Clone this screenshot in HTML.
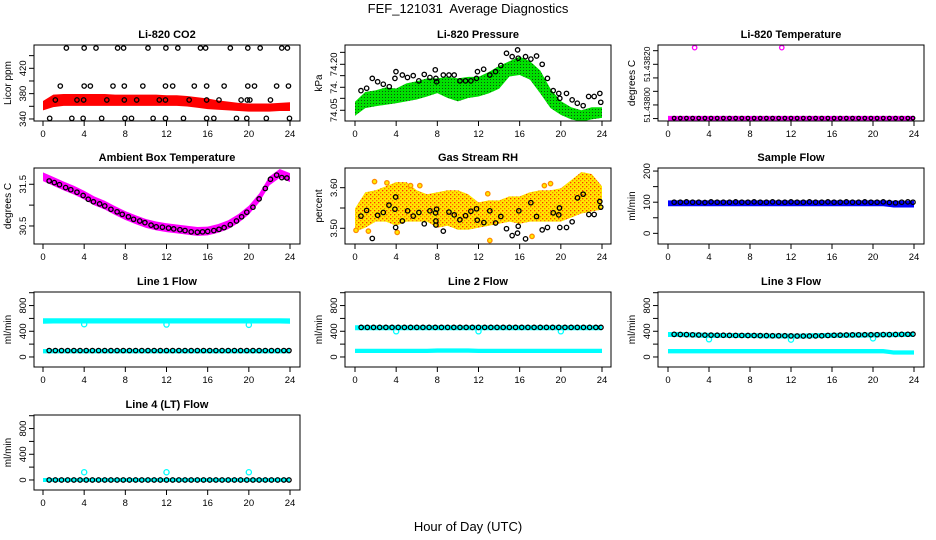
<!DOCTYPE html>
<html><head><meta charset="utf-8">
<style>
html,body{margin:0;padding:0;background:#fff;}
svg{display:block;font-family:"Liberation Sans",Arial,sans-serif;}
</style></head>
<body>
<svg id="chart" width="936" height="540" viewBox="0 0 936 540" xmlns="http://www.w3.org/2000/svg">
<defs>
<pattern id="greenDots" width="3" height="3" patternUnits="userSpaceOnUse"><rect width="3" height="3" fill="#00e000"/><rect x="1" y="1" width="1" height="1" fill="#105010"/></pattern>
<pattern id="gasDots" width="4" height="4" patternUnits="userSpaceOnUse"><rect width="4" height="4" fill="#ffe800"/><rect x="0" y="0" width="1.3" height="1.3" fill="#ff7a00"/><rect x="2" y="2" width="1.3" height="1.3" fill="#ff3000"/></pattern>
</defs>
<text x="468" y="13" text-anchor="middle" font-size="13">FEF_121031&#160; Average Diagnostics</text>
<text x="468" y="531" text-anchor="middle" font-size="13">Hour of Day (UTC)</text>
</svg>
<script>
// ---------- shared data ----------
const xTicks = [0,4,8,12,16,20,24];
const hours25 = [0,1,2,3,4,5,6,7,8,9,10,11,12,13,14,15,16,17,18,19,20,21,22,23,24];
const circleHours = [0.6,1.2,1.8,2.4,3.0,3.6,4.2,4.8,5.4,6.0,6.6,7.2,7.8,8.4,9.0,9.6,10.2,10.8,11.4,12.0,12.6,13.2,13.8,14.4,15.0,15.6,16.2,16.8,17.4,18.0,18.6,19.2,19.8,20.4,21.0,21.6,22.2,22.8,23.4,23.9];
const dipHours = [4,12,20];

// CO2
const co2BandLow  = [356,361,363,363,363,363,363,363,363,363,363,363,363,363,362,360,358,357,356,355,354,354,354,355,355];
const co2BandHigh = [366,376,377,377,377,377,377,376,376,376,376,376,375,375,374,372,370,367,365,363,362,362,362,363,364];
const co2PtHours = [2.27,4.0,5.15,7.25,7.83,10.2,11.94,13.1,15.3,15.8,18.2,19.9,21.1,23.2,23.75,
 1.68,4.0,4.6,6.8,7.9,9.7,11.9,12.6,14.7,15.9,17.6,19.9,20.55,22.7,23.85,
 1.2,3.3,3.95,6.2,7.9,9.1,11.3,11.9,14.2,15.9,17.1,19.25,19.85,20.1,22.1,
 0.65,2.8,3.9,5.7,7.96,8.6,10.7,11.9,13.65,15.9,16.6,18.8,19.8,21.7,23.95];
const co2PtValues = [452,452,452,452,452,452,452,452,452,452,452,452,452,452,452,
 392,392,392,392,392,392,392,392,392,392,392,392,392,392,392,
 370,370,370,370,370,370,370,370,370,370,370,370,370,370,370,
 341,341,341,341,341,341,341,341,341,341,341,341,341,341,341];

// Pressure
const presBandHigh = [74.073,74.105,74.11,74.12,74.116,74.133,74.14,74.149,74.149,74.154,74.149,74.154,74.154,74.17,74.19,74.205,74.22,74.205,74.175,74.115,74.075,74.055,74.045,74.055,74.055];
const presBandLow  = [74.037,74.062,74.068,74.073,74.078,74.084,74.09,74.10,74.111,74.095,74.084,74.095,74.10,74.11,74.125,74.165,74.17,74.155,74.11,74.062,74.04,74.025,74.018,74.025,74.03];
const presPtHours = [0.58,1.13,1.68,2.2,2.75,3.33,3.88,3.98,4.6,5.1,5.66,6.2,6.73,7.28,7.8,7.86,7.93,8.58,9.13,9.64,10.2,10.74,11.26,11.8,11.9,12.5,13.1,13.66,14.17,14.72,15.27,15.8,15.86,16.57,17.09,17.64,18.19,18.7,19.26,19.8,19.9,20.55,21.1,21.6,22.17,22.7,23.24,23.79,23.88];
const presPtValues = [74.114,74.122,74.154,74.143,74.135,74.127,74.154,74.176,74.165,74.157,74.163,74.146,74.167,74.157,74.182,74.154,74.143,74.165,74.165,74.165,74.146,74.146,74.146,74.154,74.176,74.184,74.165,74.176,74.196,74.236,74.225,74.247,74.22,74.225,74.217,74.227,74.2,74.154,74.114,74.105,74.089,74.105,74.084,74.073,74.065,74.095,74.095,74.105,74.076];

// Li-820 temperature
const tempBase = [51.437935,51.437935,51.437935,51.437935,51.437935,51.437935,51.437935,51.437935,51.437935,51.437935,51.437935,51.437935,51.437935,51.437935,51.437935,51.437935,51.437935,51.437935,51.437935,51.437935,51.437935,51.437935,51.437935,51.437935,51.437935];
const tempOutHours = [2.6,11.1];
const tempOutValues = [51.438282,51.438282];

// Ambient box temperature
const ambCenter = [31.68,31.57,31.46,31.36,31.24,31.1,31.0,30.87,30.75,30.65,30.56,30.5,30.46,30.43,30.4,30.37,30.38,30.44,30.53,30.68,30.88,31.17,31.58,31.76,31.66];
const ambPtHours = [0.6,1.1,1.6,2.2,2.7,3.3,3.9,4.4,4.9,5.5,6.0,6.6,7.2,7.7,8.3,8.8,9.4,9.9,10.5,11.0,11.6,12.2,12.7,13.3,13.8,14.4,15.0,15.5,16.0,16.6,17.1,17.6,18.2,18.8,19.3,19.8,20.4,21.0,21.6,22.1,22.7,23.2,23.7];
const ambPtValues = [31.58,31.54,31.49,31.42,31.37,31.31,31.23,31.14,31.08,31.03,30.98,30.9,30.84,30.78,30.72,30.66,30.62,30.58,30.52,30.48,30.47,30.45,30.43,30.41,30.39,30.36,30.35,30.36,30.37,30.39,30.42,30.46,30.53,30.62,30.72,30.83,30.95,31.15,31.4,31.62,31.72,31.66,31.65];

// Gas stream RH
const gasLow  = [3.495,3.505,3.52,3.52,3.51,3.52,3.52,3.52,3.505,3.51,3.50,3.50,3.505,3.51,3.515,3.52,3.515,3.52,3.52,3.52,3.52,3.53,3.54,3.545,3.55];
const gasHigh = [3.545,3.585,3.59,3.60,3.61,3.61,3.59,3.58,3.585,3.59,3.59,3.58,3.56,3.565,3.565,3.575,3.575,3.585,3.59,3.59,3.595,3.615,3.635,3.63,3.60];
const gasPtHours = [0.58,1.13,1.68,2.2,2.75,3.3,3.88,3.95,3.95,4.6,5.11,5.66,6.21,6.73,7.28,7.83,7.93,7.86,7.86,8.58,9.13,9.64,10.19,10.74,11.26,11.81,11.88,12.52,13.1,13.66,14.17,14.72,15.27,15.79,15.86,15.92,16.57,17.09,17.64,18.19,18.7,19.26,19.8,19.87,19.9,20.55,21.1,21.62,22.17,22.72,23.24,23.79,23.88];
const gasPtValues = [3.530,3.544,3.475,3.532,3.539,3.557,3.547,3.577,3.502,3.518,3.543,3.530,3.539,3.511,3.543,3.538,3.547,3.518,3.508,3.493,3.540,3.533,3.521,3.531,3.542,3.548,3.520,3.514,3.543,3.513,3.529,3.499,3.482,3.488,3.505,3.543,3.474,3.563,3.529,3.496,3.502,3.538,3.533,3.550,3.502,3.502,3.516,3.575,3.584,3.534,3.534,3.566,3.552];
const gasOutHours = [0.1,1.3,1.9,3.1,4.1,5.4,6.3,12.9,13.1,17.2,18.4,19.0];
const gasOutValues = [3.495,3.493,3.615,3.612,3.49,3.605,3.605,3.585,3.47,3.48,3.605,3.61];

// Sample flow
const sampleLow  = [92,92,92,92,92,92,92,92,92,92,92,92,92,92,92,92,92,92,92,92,92,92,88,88,88];
const sampleHigh = [101,101,101,101,101,101,101,101,101,101,101,101,101,101,101,101,101,101,101,101,101,101,100,100,100];
const sampleBlack = [100,100,101,100,100,99,101,100,100,100,101,100,100,101,100,100,101,100,100,101,100,100,101,100,100,101,100,100,101,100,100,101,100,100,101,99,98,100,101,100];

// Line flows
const line1CyanLow  = [540,545,545,545,545,545,545,545,545,545,545,545,545,545,545,545,545,545,545,545,545,545,545,545,540];
const line1CyanHigh = [580,580,580,580,580,580,580,580,580,580,580,580,580,580,580,580,580,580,580,580,580,580,580,580,578];
const line1CyanBase = [90,90,90,90,90,90,90,90,90,90,90,90,90,90,90,90,90,90,90,90,90,90,90,90,90];
const line1Dips = [510,505,500];
const line1Black = [100,100,100,100,100,100,100,100,100,100,100,100,100,100,100,100,100,100,100,100,100,100,100,100,100,100,100,100,100,100,100,100,100,100,100,100,100,100,100,100];

const line2CyanLow  = [440,440,440,440,440,440,440,440,440,440,440,440,440,440,440,440,440,440,440,440,440,440,440,440,440];
const line2CyanHigh = [470,470,470,470,470,470,470,470,470,470,470,470,470,470,470,470,470,470,470,470,470,470,470,470,470];
const line2CyanBase = [95,95,95,95,95,95,95,95,100,100,100,100,95,95,95,95,95,95,95,95,95,95,95,95,95];
const line2Dips = [400,400,400];
const line2Black = [460,460,460,460,460,460,460,460,460,460,460,460,460,460,460,460,460,460,460,460,460,460,460,460,460,460,460,460,460,460,460,460,460,460,460,460,460,460,460,460];

const line3CyanLow  = [335,335,330,325,320,320,320,318,318,315,312,312,310,310,315,318,320,322,325,325,328,330,332,335,335];
const line3CyanHigh = [365,365,360,355,352,350,350,348,348,345,342,342,340,340,345,348,352,352,355,355,358,360,362,365,365];
const line3CyanBase = [90,90,90,90,90,90,90,90,90,90,90,90,90,90,90,90,90,90,90,90,90,90,70,70,70];
const line3Dips = [275,270,290];
const line3Black = [352,350,348,345,342,340,340,338,338,336,335,335,334,334,332,332,330,330,330,328,326,326,326,328,330,335,338,340,342,344,345,346,346,347,348,348,350,352,353,355];

const line4CyanLow  = [-8,-8,-8,-8,-8,-8,-8,-8,-8,-8,-8,-8,-8,-8,-8,-8,-8,-8,-8,-8,-8,-8,-8,-8,-8];
const line4CyanHigh = [8,8,8,8,8,8,8,8,8,8,8,8,8,8,8,8,8,8,8,8,8,8,8,8,8];
const line4Dips = [120,120,120];
const line4Black = [0,0,0,0,0,0,0,0,0,0,0,0,0,0,0,0,0,0,0,0,0,0,0,0,0,0,0,0,0,0,0,0,0,0,0,0,0,0,0,0];

// y tick arrays
const co2Ticks = [340,360,380,400,420,440];
const co2TickLabels = ["340","","380","","420",""];
const presTicks = [74.05,74.089,74.125,74.163,74.20,74.239];
const presTickLabels = ["74.05","","74.","","74.20",""];
const tempTicks = [51.437933,51.43800,51.438067,51.438133,51.43820,51.438267];
const tempTickLabels = ["","51.43800","","","51.43820",""];
const ambTicks = [30.5,31.0,31.5];
const ambTickLabels = ["30.5","","31.5"];
const gasTicks = [3.50,3.55,3.60];
const gasTickLabels = ["3.50","","3.60"];
const sampleTicks = [0,50,100,150,200];
const sampleTickLabels = ["0","","100","","200"];
const flowTicks = [0,200,400,600,800,1000];
const flowTickLabels = ["0","","400","","800",""];

// ---------- layout ----------
const svg = document.getElementById('chart');
const NS = 'http://www.w3.org/2000/svg';
const cols = [{x0:34,x1:300,h0:43,h24:290},{x0:345,x1:611,h0:355,h24:602},{x0:658,x1:924,h0:668,h24:914}];
const rows = [{y0:45,y1:121},{y0:168,y1:244},{y0:292,y1:367},{y0:415,y1:490}];

function el(tag, attrs, parent){
  const e = document.createElementNS(NS, tag);
  for (const k in attrs) e.setAttribute(k, attrs[k]);
  (parent||svg).appendChild(e);
  return e;
}

function makePanel(ci, ri, title, ylab, vmin, vmax, ticks, tickLabels, key, tickFont){
  const c = cols[ci], r = rows[ri];
  const g = el('g', {});
  
  
  const xs = h => c.h0 + (c.h24 - c.h0) * h / 24;
  const ys = v => r.y1 - (v - vmin) / (vmax - vmin) * (r.y1 - r.y0);
  const clipId = 'clip-' + key;
  const cp = el('clipPath', {id: clipId}, g);
  el('rect', {x: c.x0, y: r.y0, width: c.x1 - c.x0, height: r.y1 - r.y0}, cp);
  const plot = el('g', {'clip-path': 'url(#' + clipId + ')'}, g);
  
  
  const t = el('text', {x: (c.x0 + c.x1) / 2, y: r.y0 - 7, 'text-anchor': 'middle', 'font-size': 11, 'font-weight': 'bold'}, g);
  t.textContent = title;
  
  
  const yl = el('text', {x: 0, y: 0, 'text-anchor': 'middle', 'font-size': 10, transform: 'translate(' + (c.x0 - 23) + ',' + ((r.y0 + r.y1) / 2) + ') rotate(-90)'}, g);
  yl.textContent = ylab;
  
  
  xTicks.forEach(h => {
    const x = xs(h);
    const tk = el('line', {x1: x, x2: x, y1: r.y1, y2: r.y1 + 5, stroke: '#000', 'stroke-width': 1}, g);
    
    
    const lb = el('text', {x: x, y: r.y1 + 16, 'text-anchor': 'middle', 'font-size': 9.5}, g);
    lb.textContent = String(h);
    
    
  });
  ticks.forEach((v, i) => {
    const y = ys(v);
    const tk = el('line', {x1: c.x0 - 5, x2: c.x0, y1: y, y2: y, stroke: '#000', 'stroke-width': 1}, g);
    
    
    if (tickLabels[i]) {
      const lb = el('text', {x: 0, y: 0, 'text-anchor': 'middle', 'font-size': tickFont || 9.5, transform: 'translate(' + (c.x0 - 8) + ',' + y + ') rotate(-90)'}, g);
      lb.textContent = tickLabels[i];
      
      
    }
  });
  const box = el('rect', {x: c.x0, y: r.y0, width: c.x1 - c.x0, height: r.y1 - r.y0, fill: 'none', stroke: '#000', 'stroke-width': 1}, g);
  
  
  return {plot, xs, ys, key};
}

function band(p, hrs, lo, hi, fill, name){
  let pts = [];
  for (let i = 0; i < hrs.length; i++) pts.push(p.xs(hrs[i]) + ',' + (p.ys(hi[i]) - 1.5));
  for (let i = hrs.length - 1; i >= 0; i--) pts.push(p.xs(hrs[i]) + ',' + (p.ys(lo[i]) + 1.5));
  const b = el('polygon', {points: pts.join(' '), fill: fill, stroke: 'none'}, p.plot);
  
  
}

function pts(p, hrs, vals, color, name, r, fill){
  for (let i = 0; i < hrs.length; i++) {
    const c = el('circle', {cx: p.xs(hrs[i]), cy: p.ys(vals[i]), r: r || 2.2, fill: fill || 'none', stroke: color, 'stroke-width': 1.3}, p.plot);
    
    
  }
}

let p = makePanel(0, 0, 'Li-820 CO2', 'Licor ppm', 336.8, 456.8, co2Ticks, co2TickLabels, 'co2');
band(p, hours25, co2BandLow, co2BandHigh, '#ff0000', 'co2-band');
pts(p, co2PtHours, co2PtValues, '#000', 'co2-point');

p = makePanel(1, 0, 'Li-820 Pressure', 'kPa', 74.015, 74.263, presTicks, presTickLabels, 'pressure');
band(p, hours25, presBandLow, presBandHigh, 'url(#greenDots)', 'pressure-band');
pts(p, presPtHours, presPtValues, '#000', 'pressure-point');

p = makePanel(2, 0, 'Li-820 Temperature', 'degrees C', 51.437921, 51.438295, tempTicks, tempTickLabels, 'licor-temp', 8.5);
band(p, hours25, tempBase.map(v => v - 0.000004), tempBase.map(v => v + 0.000004), '#ff00ff', 'licor-temp-band');
pts(p, circleHours, circleHours.map((h, i) => tempBase[Math.min(24, Math.round(h))]), '#000', 'licor-temp-point', 1.8);
pts(p, tempOutHours, tempOutValues, '#ff00ff', 'licor-temp-outlier');

p = makePanel(0, 1, 'Ambient Box Temperature', 'degrees C', 30.068, 31.89, ambTicks, ambTickLabels, 'ambient');
band(p, hours25, ambCenter.map(v => v - 0.07), ambCenter.map(v => v + 0.07), '#ff00ff', 'ambient-band');
pts(p, ambPtHours, ambPtValues, '#000', 'ambient-point');

p = makePanel(1, 1, 'Gas Stream RH', 'percent', 3.4613, 3.6485, gasTicks, gasTickLabels, 'gas-rh');
band(p, hours25, gasLow, gasHigh, 'url(#gasDots)', 'gas-rh-band');
pts(p, gasOutHours, gasOutValues, '#ff8a00', 'gas-rh-outlier', 2.2, '#ffee00');
pts(p, gasPtHours, gasPtValues, '#000', 'gas-rh-point');

p = makePanel(2, 1, 'Sample Flow', 'ml/min', -34.2, 209.8, sampleTicks, sampleTickLabels, 'sample-flow');
band(p, hours25, sampleLow, sampleHigh, '#0000ff', 'sample-flow-band');
pts(p, circleHours, sampleBlack, '#000', 'sample-flow-point');

function flowPanel(ci, ri, title, key, lo, hi, base, dips, black){
  const q = makePanel(ci, ri, title, 'ml/min', -156, 1011, flowTicks, flowTickLabels, key);
  band(q, hours25, lo, hi, '#00ffff', key + '-cyan-band');
  if (base) band(q, hours25, base.map(v => v - 10), base.map(v => v + 10), '#00ffff', key + '-cyan-base');
  pts(q, dipHours, dips, '#00ffff', key + '-cyan-dip', 2.6);
  pts(q, circleHours, black, '#000', key + '-point');
}
flowPanel(0, 2, 'Line 1 Flow', 'line1-flow', line1CyanLow, line1CyanHigh, line1CyanBase, line1Dips, line1Black);
flowPanel(1, 2, 'Line 2 Flow', 'line2-flow', line2CyanLow, line2CyanHigh, line2CyanBase, line2Dips, line2Black);
flowPanel(2, 2, 'Line 3 Flow', 'line3-flow', line3CyanLow, line3CyanHigh, line3CyanBase, line3Dips, line3Black);
flowPanel(0, 3, 'Line 4 (LT) Flow', 'line4-flow', line4CyanLow, line4CyanHigh, null, line4Dips, line4Black);
</script>
</body></html>
